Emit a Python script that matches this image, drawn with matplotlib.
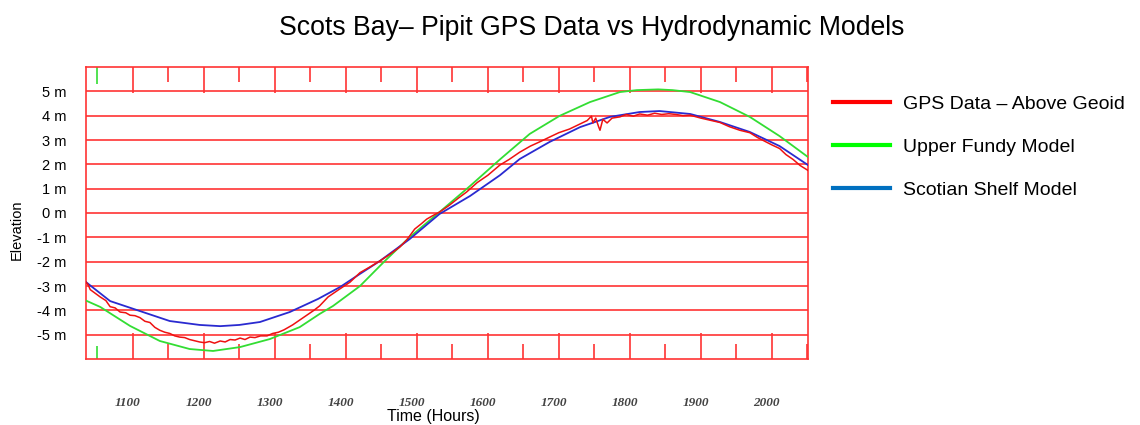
import numpy as np
import matplotlib
matplotlib.use("Agg")
import matplotlib.pyplot as plt
import matplotlib.transforms as mtrans
from matplotlib.lines import Line2D

plt.rcParams['font.family'] = ['Liberation Sans', 'DejaVu Sans']

# values (hour, metres)
blue_hours = [1034, 1068, 1110, 1152, 1194, 1223, 1250, 1279, 1321, 1361, 1392, 1420, 1448, 1490,
              1532, 1575, 1617, 1645, 1687, 1730, 1772, 1814, 1842, 1885, 1927, 1969, 2011, 2051]
blue = [-2.84, -3.62, -4.03, -4.44, -4.60, -4.65, -4.60, -4.48, -4.07, -3.53, -3.04, -2.5, -1.97, -1.07,
        -0.04, 0.70, 1.55, 2.22, 2.92, 3.53, 3.95, 4.15, 4.19, 4.07, 3.74, 3.33, 2.75, 1.97]

green_hours = [1034, 1054, 1096, 1138, 1180, 1213, 1251, 1293, 1335, 1363, 1382, 1420, 1455, 1490,
               1532, 1575, 1617, 1659, 1701, 1744, 1786, 1810, 1840, 1860, 1885, 1927, 1969, 2011, 2051]
green = [-3.6, -3.86, -4.64, -5.26, -5.59, -5.67, -5.51, -5.18, -4.69, -4.15, -3.82, -3.0, -1.97, -0.99,
         0.04, 1.11, 2.2, 3.25, 3.99, 4.56, 4.97, 5.05, 5.08, 5.05, 4.97, 4.56, 3.95, 3.16, 2.3]

red_hours = [1034, 1037, 1040, 1047, 1054, 1062, 1068, 1075, 1082, 1090, 1096, 1103, 1110, 1117, 1124,
             1131, 1138, 1145, 1152, 1159, 1166, 1173, 1180, 1187, 1194, 1201, 1208, 1215, 1223, 1230,
             1237, 1244, 1251, 1258, 1265, 1272, 1280, 1289, 1297, 1305, 1313, 1325, 1335, 1345, 1355,
             1363, 1375, 1390, 1406, 1420, 1435, 1448, 1462, 1476, 1486, 1497, 1506, 1514, 1523, 1532,
             1545, 1558, 1570, 1585, 1600, 1617, 1630, 1645, 1660, 1675, 1687, 1700, 1715, 1730, 1740,
             1746, 1748, 1752, 1756, 1758, 1762, 1768, 1775, 1786, 1795, 1805, 1814, 1825, 1835, 1845,
             1855, 1865, 1875, 1885, 1900, 1915, 1927, 1940, 1955, 1969, 1980, 1990, 2000, 2011, 2020,
             2030, 2040, 2051]
red = [-2.84, -2.95, -3.15, -3.3, -3.45, -3.6, -3.85, -3.9, -4.07, -4.1, -4.2, -4.22, -4.3, -4.45, -4.5,
       -4.7, -4.82, -4.9, -4.95, -5.05, -5.1, -5.12, -5.2, -5.25, -5.3, -5.33, -5.28, -5.35, -5.26, -5.3,
       -5.2, -5.22, -5.14, -5.2, -5.1, -5.12, -5.05, -5.05, -4.95, -4.9, -4.8, -4.6, -4.4, -4.2, -4.0,
       -3.82, -3.45, -3.15, -2.84, -2.45, -2.2, -1.97, -1.7, -1.4, -1.1, -0.66, -0.45, -0.25, -0.1, 0.04,
       0.3, 0.6, 0.86, 1.25, 1.55, 1.97, 2.2, 2.5, 2.75, 2.95, 3.12, 3.3, 3.45, 3.66, 3.8,
       3.98, 3.7, 3.9, 3.55, 3.4, 3.85, 3.7, 3.9, 3.95, 4.05, 3.98, 4.07, 4.02, 4.1, 4.05,
       4.08, 4.05, 4.0, 4.02, 3.9, 3.8, 3.72, 3.55, 3.4, 3.3, 3.1, 2.95, 2.8, 2.65, 2.4,
       2.2, 1.95, 1.75]

y_levels = [5, 4, 3, 2, 1, 0, -1, -2, -3, -4, -5]
y_labels = ["5 m", "4 m", "3 m", "2 m", "1 m", "0 m", "-1 m", "-2 m", "-3 m", "-4 m", "-5 m"]
x_major = [1100, 1200, 1300, 1400, 1500, 1600, 1700, 1800, 1900, 2000]
x_minor = [1150, 1250, 1350, 1450, 1550, 1650, 1750, 1850, 1950, 2050]

labels = ["GPS Data \u2013 Above Geoid", "Upper Fundy Model", "Scotian Shelf Model"]

grid_red = '#ff3333'

fig = plt.figure(figsize=(11.4, 4.25), dpi=100)
ax = fig.add_axes([86/1140, 1 - 359/425, (808 - 86)/1140, (359 - 67)/425])

ax.plot(green_hours, green, color='#33dd33', lw=1.3, zorder=3)
ax.plot(blue_hours, blue, color='#2a2ad0', lw=1.3, zorder=4)
ax.plot(red_hours, red, color='#ee1111', lw=1.1, zorder=5)

ax.set_xlim(1034, 2051)
ax.set_ylim(-6, 6)

ax.set_yticks(y_levels)
ax.set_yticklabels(y_labels, fontsize=10.5)
ax.yaxis.grid(True, color=grid_red, lw=1.2)
ax.tick_params(axis='y', length=0, pad=14)

ax.set_xticks(x_major)
ax.set_xticklabels([str(v) for v in x_major], fontsize=9.5, family='Liberation Serif',
                   style='italic', weight='bold', color='#444444')
ax.set_xticks(x_minor, minor=True)
ax.tick_params(axis='x', which='both', direction='in', top=True, bottom=True, color=grid_red, width=1.2)
ax.tick_params(axis='x', which='major', length=19, pad=27)
ax.tick_params(axis='x', which='minor', length=11)
shift = mtrans.ScaledTranslation(-5/100, 0, fig.dpi_scale_trans)
for t in ax.get_xticklabels():
    t.set_transform(t.get_transform() + shift)

# green minor tick at 1050
ax.vlines(1050, 5.3, 6, color='#33dd33', lw=1.2)
ax.vlines(1050, -6, -5.45, color='#33dd33', lw=1.2)

for s in ax.spines.values():
    s.set_color(grid_red)
    s.set_linewidth(1.2)

fig.text(592/1140, 1 - 28/425, "Scots Bay\u2013 Pipit GPS Data vs Hydrodynamic Models",
         ha='center', va='center', fontsize=19.2)
fig.text(17/1140, 1 - 230/425, "Elevation", rotation=90, ha='center', va='center', fontsize=10.5)
fig.text(433/1140, 1 - 417/425, "Time (Hours)", ha='center', va='center', fontsize=11.5)

handles = [Line2D([], [], color='#ff0000', lw=3),
           Line2D([], [], color='#00ff00', lw=3),
           Line2D([], [], color='#0070c0', lw=3)]
fig.legend(handles, labels, loc='upper left', bbox_to_anchor=(815/1140, 1 - 78/425),
           frameon=False, fontsize=14, handlelength=2.94, handletextpad=0.67, labelspacing=1.3)

fig.savefig('out.png', dpi=100)
